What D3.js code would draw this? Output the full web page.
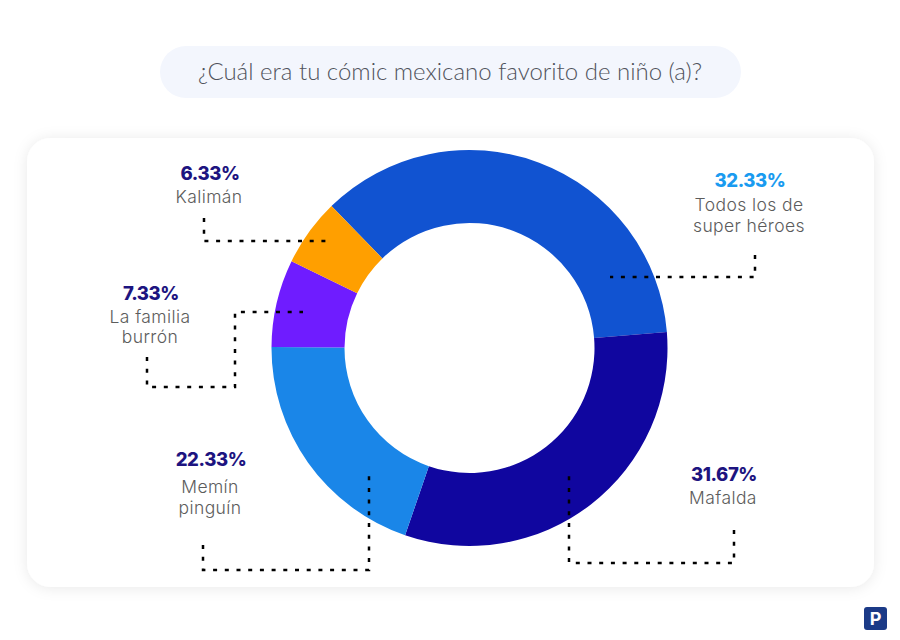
<!DOCTYPE html>
<html lang="es">
<head>
    <meta charset="utf-8">
    <title>¿Cuál era tu cómic mexicano favorito de niño (a)?</title>
    <script src="https://d3js.org/d3.v7.min.js"></script>
    <style>
        body { margin: 0; background: #fff; }
        svg { display: block; }
        text { font-family: Inter, "Noto Sans", sans-serif; }
        .pct { font-weight: 800; font-size: 18.5px; letter-spacing: -0.4px; text-anchor: middle; }
        .name { font-size: 17.5px; font-weight: 300; letter-spacing: 0.4px; fill: #5c5c5c; text-anchor: middle; }
        .title { font-family: Lato, sans-serif; font-weight: 300; font-size: 24px; fill: #50535c; text-anchor: middle; }
    </style>
</head>
<body>
<div id="chart"></div>
<script>
// data, in drawing order (clockwise from the top blue slice)
const categories = ["Todos los de super héroes", "Mafalda", "Memín pinguín", "La familia burrón", "Kalimán"];
// slice shares measured from the ring itself, the drawn angles don't follow the printed labels
const sliceShares = [36.0, 31.55, 19.8, 7.15, 5.5];
const percentLabels = ["32.33%", "31.67%", "22.33%", "7.33%", "6.33%"];
const nameLines = [["Todos los de", "super héroes"], ["Mafalda"], ["Memín", "pinguín"], ["La familia", "burrón"], ["Kalimán"]];
const sliceColors = ["#1153d1", "#10069f", "#1a86e8", "#6f1cff", "#ff9f00"];
const titleText = "¿Cuál era tu cómic mexicano favorito de niño (a)?";

// label placement and leader lines, one entry per category
const labelLayout = [
    {x: 749, pctY: 187, nameY: [211, 232], color: "#1a9bf0", leader: [[755, 255], [755, 277], [610, 277]]},
    {x: 723, pctY: 481, nameY: [504], color: "#1d1480", leader: [[734, 530], [734, 563], [569, 563], [569, 475]]},
    {x: 210, pctY: 466, nameY: [493, 514], color: "#1d1480", leader: [[203, 545], [203, 570], [369, 570], [369, 475]]},
    {x: 150, pctY: 300, nameY: [323, 343], color: "#1d1480", leader: [[147, 357], [147, 387], [235, 387], [235, 312], [303, 312]]},
    {x: 209, pctY: 180, nameY: [203], color: "#1d1480", leader: [[204, 218], [204, 241], [326, 241]]}
];

const width = 900, height = 640;
const cx = 469.5, cy = 348, outerR = 198, innerR = 125;

const svg = d3.select("#chart")
  .append("svg")
    .attr("width", width)
    .attr("height", height);

// soft shadow of the card
const shadow = svg.append("defs").append("filter")
    .attr("id", "cardShadow")
    .attr("x", "-5%").attr("y", "-5%")
    .attr("width", "110%").attr("height", "110%");
shadow.append("feDropShadow")
    .attr("dx", 0).attr("dy", 1)
    .attr("stdDeviation", 7)
    .attr("flood-color", "#000")
    .attr("flood-opacity", 0.09);

// title pill
svg.append("rect")
    .attr("x", 160).attr("y", 46)
    .attr("width", 581).attr("height", 52)
    .attr("rx", 26)
    .attr("fill", "#f3f6fd");
svg.append("text")
    .attr("class", "title")
    .attr("x", 450).attr("y", 80)
    .text(titleText);

// white card
svg.append("rect")
    .attr("x", 27).attr("y", 138)
    .attr("width", 847).attr("height", 449)
    .attr("rx", 24)
    .attr("fill", "#fff")
    .attr("filter", "url(#cardShadow)");

// donut
const startAngle = -44.2 * Math.PI / 180;
const pie = d3.pie()
    .sort(null)
    .startAngle(startAngle)
    .endAngle(startAngle + 2 * Math.PI);
const arc = d3.arc()
    .innerRadius(innerR)
    .outerRadius(outerR);

svg.append("g")
    .attr("transform", "translate(" + cx + "," + cy + ")")
  .selectAll("path")
  .data(pie(sliceShares))
  .enter()
  .append("path")
    .attr("d", arc)
    .attr("fill", function(d, i) { return sliceColors[i]; });

// dotted leader lines
const leaderLine = d3.line();
svg.append("g")
  .selectAll("path")
  .data(labelLayout)
  .enter()
  .append("path")
    .attr("d", function(d) { return leaderLine(d.leader); })
    .attr("fill", "none")
    .attr("stroke", "#000")
    .attr("stroke-width", 2.5)
    .attr("stroke-dasharray", "4 7.7");

// percent and name labels
const labels = svg.append("g")
  .selectAll("g")
  .data(categories)
  .enter()
  .append("g")
    .attr("aria-label", function(d) { return d; });

labels.append("text")
    .attr("class", "pct")
    .attr("x", function(d, i) { return labelLayout[i].x + 1; })
    .attr("y", function(d, i) { return labelLayout[i].pctY; })
    .attr("fill", function(d, i) { return labelLayout[i].color; })
    .text(function(d, i) { return percentLabels[i]; });

labels.each(function(d, i) {
    d3.select(this).selectAll("text.name")
      .data(nameLines[i])
      .enter()
      .append("text")
        .attr("class", "name")
        .attr("x", labelLayout[i].x)
        .attr("y", function(line, j) { return labelLayout[i].nameY[j]; })
        .text(function(line) { return line; });
});

// small logo bottom right
svg.append("rect")
    .attr("x", 864).attr("y", 607)
    .attr("width", 23).attr("height", 23)
    .attr("rx", 3)
    .attr("fill", "#1b3a87");
svg.append("text")
    .attr("x", 875.5).attr("y", 625)
    .attr("text-anchor", "middle")
    .attr("font-size", 18)
    .attr("font-weight", 700)
    .attr("fill", "#fff")
    .text("P");
</script>
</body>
</html>
